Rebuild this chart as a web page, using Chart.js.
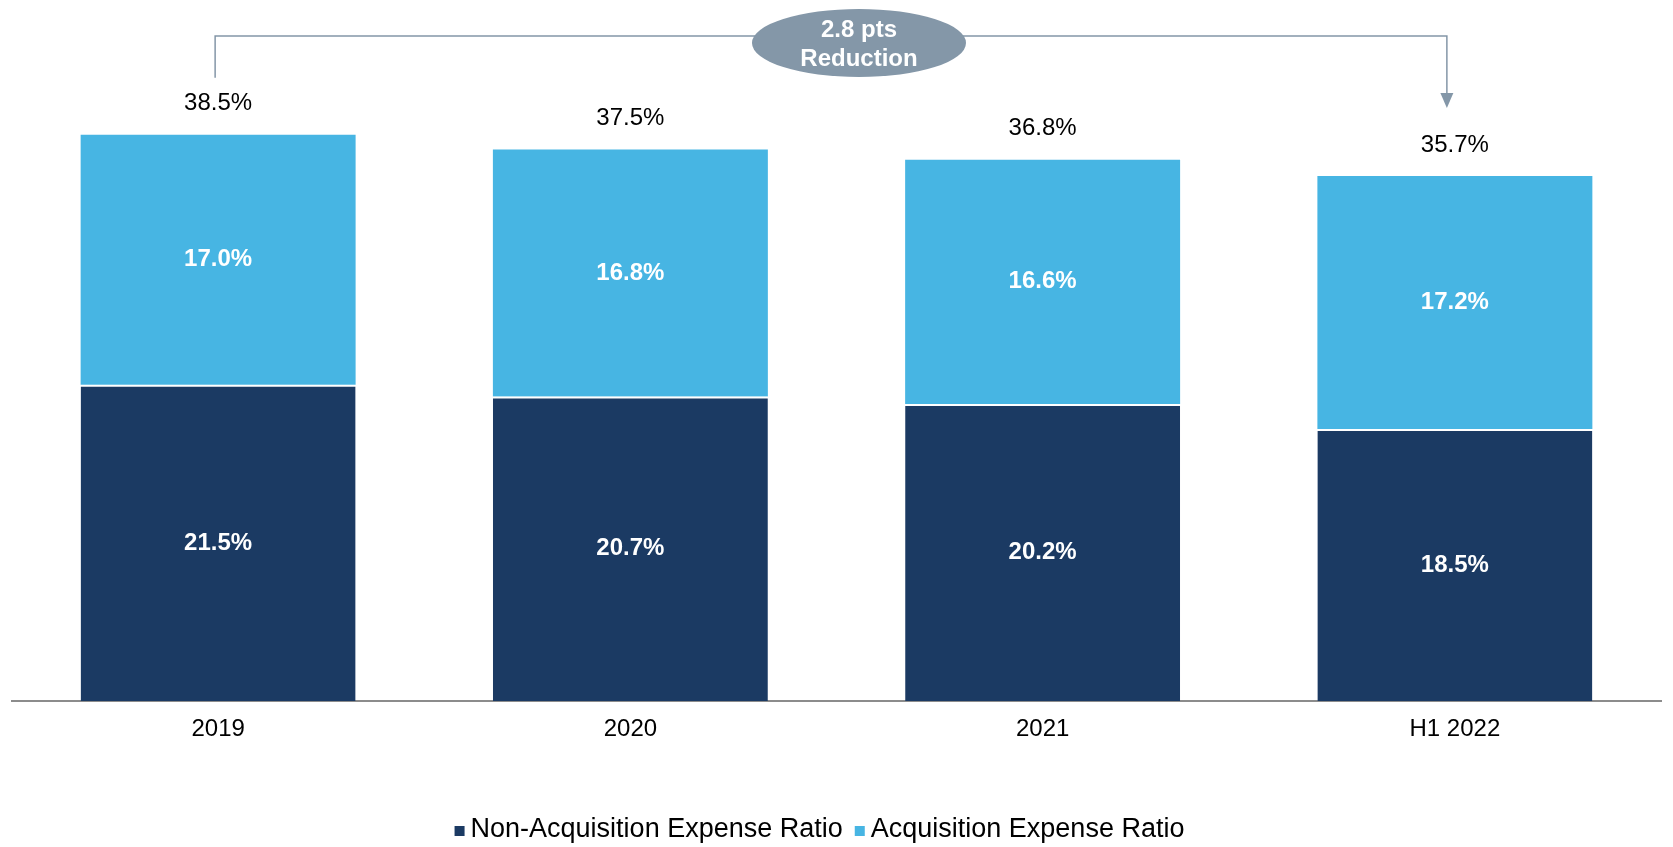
<!DOCTYPE html>
<html>
<head>
<meta charset="utf-8">
<script src="https://cdn.jsdelivr.net/npm/chart.js@4.4.1/dist/chart.umd.min.js"></script>
<style>
  html, body { margin: 0; padding: 0; background: #fff; }
</style>
</head>
<body>
<canvas id="expenseChart" width="1673" height="847"></canvas>
<script>
const categories = ["2019", "2020", "2021", "H1 2022"];
const nonAcquisition = [21.5, 20.7, 20.2, 18.5];
const acquisition = [17.0, 16.8, 16.6, 17.2];
const totals = [38.5, 37.5, 36.8, 35.7];
const calloutText = ["2.8 pts", "Reduction"];

const FONT = "'Liberation Sans', Arial, sans-serif";
const DARK = "#1b3a63";
const LIGHT = "#47b5e3";
const CALLOUT = "#8497a8";

Chart.defaults.font.family = FONT;

// value labels inside segments + totals on top
const barLabels = {
  id: "barLabels",
  afterDatasetsDraw(chart) {
    const ctx = chart.ctx;
    ctx.save();
    ctx.textAlign = "center";
    ctx.textBaseline = "middle";
    ctx.fillStyle = "#fff";
    ctx.font = "bold 24px " + FONT;
    chart.data.datasets.forEach((ds, i) => {
      chart.getDatasetMeta(i).data.forEach((bar, j) => {
        ctx.fillText(ds.data[j].toFixed(1) + "%", bar.x, (bar.y + bar.base) / 2);
      });
    });
    ctx.fillStyle = "#000";
    ctx.font = "24px " + FONT;
    chart.getDatasetMeta(1).data.forEach((bar, j) => {
      ctx.fillText(totals[j].toFixed(1) + "%", bar.x, bar.y - 31);
    });
    ctx.restore();
  },
};

// bracket arrow from first to last bar with the oval note
const reductionCallout = {
  id: "reductionCallout",
  afterDraw(chart) {
    const ctx = chart.ctx;
    const bars = chart.getDatasetMeta(1).data;
    const first = bars[0];
    const last = bars[bars.length - 1];
    const x1 = first.x - 3;
    const x2 = last.x - 8;
    const yTop = chart.chartArea.top - 62;
    const yLeft = first.y - 57;
    const yTip = last.y - 68;

    ctx.save();
    ctx.strokeStyle = CALLOUT;
    ctx.lineWidth = 1.5;
    ctx.beginPath();
    ctx.moveTo(x1, yLeft);
    ctx.lineTo(x1, yTop);
    ctx.lineTo(x2, yTop);
    ctx.lineTo(x2, yTip - 14);
    ctx.stroke();

    ctx.fillStyle = CALLOUT;
    ctx.beginPath();
    ctx.moveTo(x2 - 6.5, yTip - 15);
    ctx.lineTo(x2 + 6.5, yTip - 15);
    ctx.lineTo(x2, yTip);
    ctx.closePath();
    ctx.fill();

    const cx = (x1 + x2) / 2 + 28;
    const cy = yTop + 7;
    ctx.beginPath();
    ctx.ellipse(cx, cy, 107, 34, 0, 0, Math.PI * 2);
    ctx.fill();

    ctx.fillStyle = "#fff";
    ctx.font = "bold 24px " + FONT;
    ctx.textAlign = "center";
    ctx.textBaseline = "middle";
    ctx.fillText(calloutText[0], cx, cy - 13);
    ctx.fillText(calloutText[1], cx, cy + 16);
    ctx.restore();
  },
};

// compact legend: small square, short gap, text
const bottomLegend = {
  id: "bottomLegend",
  afterDraw(chart) {
    const ctx = chart.ctx;
    const box = 10, gap = 6, itemGap = 12, y = 830;
    ctx.save();
    ctx.font = "27px " + FONT;
    ctx.textBaseline = "middle";
    ctx.textAlign = "left";
    const items = chart.data.datasets.map((ds) => ({
      text: ds.label,
      color: ds.backgroundColor,
      w: box + gap + ctx.measureText(ds.label).width,
    }));
    const total = items.reduce((s, it) => s + it.w, 0) + itemGap * (items.length - 1);
    let x = chart.width / 2 - 17 - total / 2;
    items.forEach((it) => {
      ctx.fillStyle = it.color;
      ctx.fillRect(x, y - box / 2 + 1, box, box);
      ctx.fillStyle = "#000";
      ctx.fillText(it.text, x + box + gap, y);
      x += it.w + itemGap;
    });
    ctx.restore();
  },
};

new Chart(document.getElementById("expenseChart"), {
  type: "bar",
  data: {
    labels: categories,
    datasets: [
      {
        label: "Non-Acquisition Expense Ratio",
        data: nonAcquisition,
        backgroundColor: DARK,
        borderColor: "#fff",
        borderWidth: { top: 2, left: 0, right: 0, bottom: 0 },
        borderSkipped: false,
        barPercentage: 0.667,
        categoryPercentage: 1,
      },
      {
        label: "Acquisition Expense Ratio",
        data: acquisition,
        backgroundColor: LIGHT,
        borderWidth: 0,
        barPercentage: 0.667,
        categoryPercentage: 1,
      },
    ],
  },
  options: {
    responsive: false,
    animation: false,
    layout: { padding: { top: 98, left: 12, right: 12, bottom: 0 } },
    plugins: {
      tooltip: { enabled: false },
      legend: { display: false },
    },
    scales: {
      x: {
        stacked: true,
        grid: { display: false, drawTicks: false },
        border: { display: true, color: "#8c8c8c", width: 2 },
        ticks: { color: "#000", padding: 14, font: { size: 24 } },
        afterFit: (scale) => { scale.height = 146; },
      },
      y: {
        stacked: true,
        display: false,
        min: 0,
        max: 41,
      },
    },
  },
  plugins: [barLabels, reductionCallout, bottomLegend],
});
</script>
</body>
</html>
